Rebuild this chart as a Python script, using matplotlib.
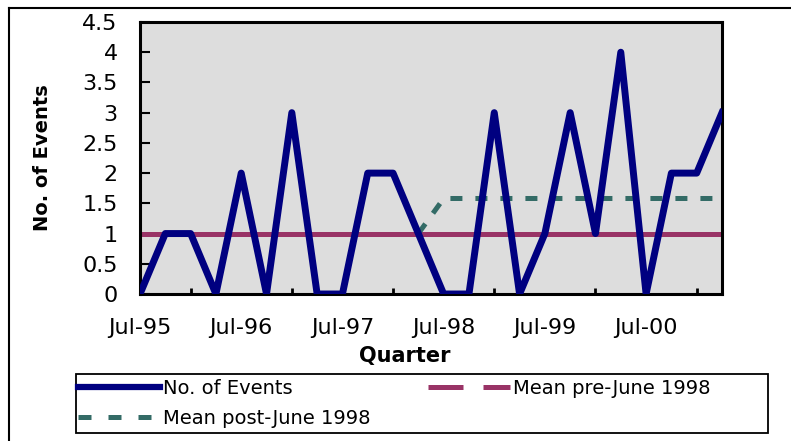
import numpy as np
import matplotlib
matplotlib.use("Agg")
import matplotlib.pyplot as plt
from matplotlib.lines import Line2D
from matplotlib.patches import Rectangle

quarters = ['Jul-95', 'Oct-95', 'Jan-96', 'Apr-96', 'Jul-96', 'Oct-96', 'Jan-97', 'Apr-97',
            'Jul-97', 'Oct-97', 'Jan-98', 'Apr-98', 'Jul-98', 'Oct-98', 'Jan-99', 'Apr-99',
            'Jul-99', 'Oct-99', 'Jan-00', 'Apr-00', 'Jul-00', 'Oct-00', 'Jan-01', 'Apr-01']
events = [0, 1, 1, 0, 2, 0, 3, 0, 0, 2, 2, 1, 0, 0, 3, 0, 1, 3, 1, 4, 0, 2, 2, 3]
mean_pre = [1.0] * 24
mean_post = [np.nan] * 11 + [1.0] + [1.58] * 12

navy = '#000080'
plum = '#993366'
teal = '#336b66'

plt.rcParams['font.family'] = 'DejaVu Sans'
fig = plt.figure(figsize=(7.91, 4.41), dpi=100)
ax = fig.add_axes([140/791, 147/441, 582/791, 272/441])
ax.set_facecolor('#dddddd')

x = np.arange(len(quarters))
ax.plot(x, mean_pre, color=plum, lw=3.6, zorder=2)
ax.plot(x, mean_post, color=teal, lw=3.6, dashes=(2.4, 2.6), dash_capstyle='butt', zorder=2)
ax.plot(x, events, color=navy, lw=5, solid_joinstyle='round', zorder=3)

ax.set_xlim(0, len(quarters) - 1)
ax.set_ylim(0, 4.5)
ax.set_xticks(x[::4])
ax.set_xticklabels(quarters[::4])
ax.set_xticks(x[::2], minor=True)
ax.tick_params(axis='x', which='major', length=0, pad=17, labelsize=16)
ax.tick_params(axis='x', which='minor', direction='in', length=4, width=2)
yt = np.arange(0, 4.51, 0.5)
ax.set_yticks(yt)
ax.set_yticklabels(['%g' % v for v in yt])
ax.tick_params(axis='y', direction='in', length=7, width=1.5, pad=16, labelsize=16)
for s in ax.spines.values():
    s.set_linewidth(2.2)

ax.set_ylabel('No. of Events', fontsize=14, fontweight='bold', va='center')
ax.yaxis.set_label_coords(-0.167, 0.5)
ax.set_xlabel('Quarter', fontsize=15, fontweight='bold', va='center')
ax.xaxis.set_label_coords(0.455, -0.228)

# legend
h_events = Line2D([], [], color=navy, lw=4.5)
h_post = Line2D([], [], color=teal, lw=3.6, dashes=(2.6, 3.4), dash_capstyle='butt')
h_pre = Line2D([], [], color=plum, lw=3.6, dashes=(7, 4), dash_capstyle='butt')
fig.legend([h_events, h_post, h_pre],
           ['No. of Events', 'Mean post-June 1998', 'Mean pre-June 1998'],
           ncol=2, loc='upper left', bbox_to_anchor=(78/791, 1 - 379/441),
           frameon=False, fontsize=14, borderpad=0, borderaxespad=0,
           handlelength=4.2, handletextpad=0.15, columnspacing=3.0, labelspacing=0.55)
fig.patches.append(Rectangle((76/791, 1 - 433/441), 692/791, 59/441, transform=fig.transFigure,
                             fill=False, edgecolor='black', lw=1.3))

# outer chart frame
fig.add_artist(Line2D([9/791, 1], [1 - 8/441, 1 - 8/441], transform=fig.transFigure, color='black', lw=1.5))
fig.add_artist(Line2D([9/791, 9/791], [0, 1 - 8/441], transform=fig.transFigure, color='black', lw=1.5))

fig.savefig('out.png', dpi=100)
